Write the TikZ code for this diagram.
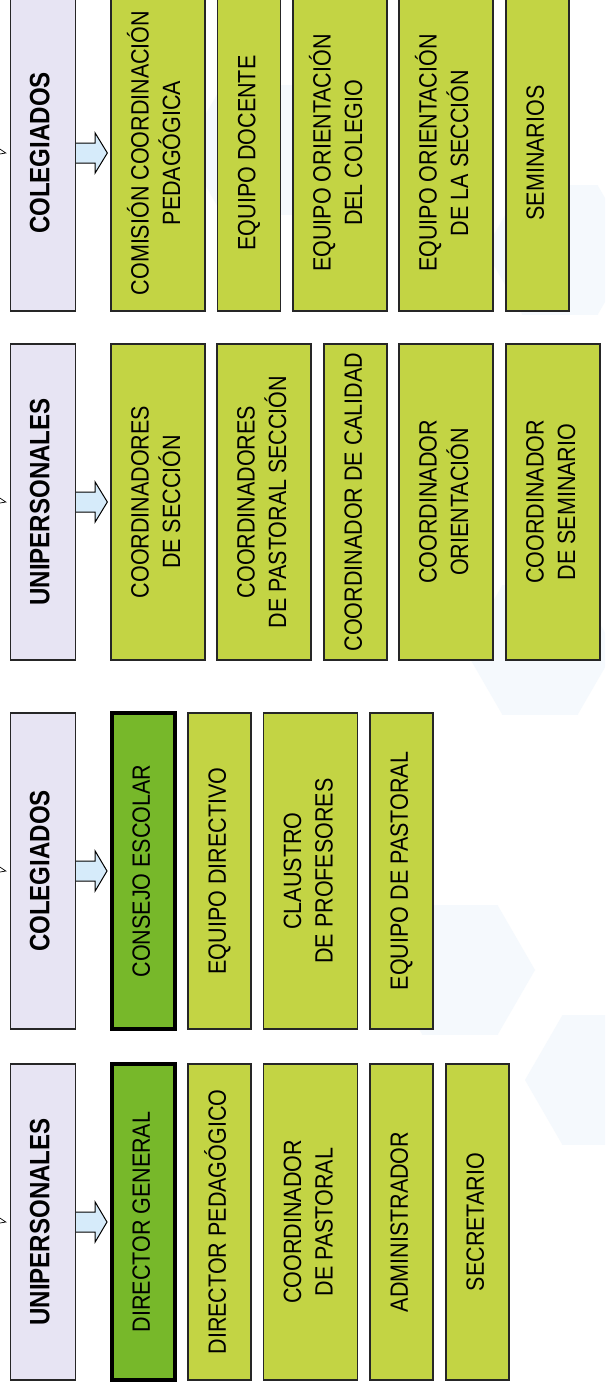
\documentclass[tikz,border=0pt]{standalone}
\usepackage{fontspec}
\setmainfont{Liberation Sans}
\usepackage{tikz}
\usetikzlibrary{calc,positioning,shapes.geometric}
\definecolor{fondoCab}{RGB}{231,228,243}
\definecolor{verdeClaro}{RGB}{195,212,68}
\definecolor{verdeOscuro}{RGB}{119,184,42}
\definecolor{azulFlecha}{RGB}{214,235,250}
\definecolor{hexa}{RGB}{245,249,253}
\colorlet{penColor}{black!85}

\tikzset{
  cabecera/.style={draw=penColor,fill=fondoCab,line width=1.3pt,minimum width=65pt,
    minimum height=316pt,inner sep=0pt,font=\bfseries\fontsize{28}{32}\selectfont},
  cargo/.style={draw=penColor,fill=verdeClaro,line width=1.3pt,minimum height=316pt,
    inner sep=0pt,font=\fontsize{25}{31.5}\selectfont},
  estrecho/.style={cargo,minimum width=63pt},
  ancho/.style={cargo,minimum width=94pt},
  principal/.style={cargo,fill=verdeOscuro,draw=black,line width=4pt,minimum width=63pt},
  flecha/.style={draw=black,fill=azulFlecha,line width=1pt,line join=miter},
  punta/.style={draw=black,line width=.7pt},
  hexagono/.style={regular polygon,regular polygon sides=6,minimum size=150pt,
    fill=hexa,draw=none}
}
\newcommand{\vtxt}[1]{\rotatebox{90}{\scalebox{.86}[1]{\begin{tabular}{@{}c@{}}#1\end{tabular}}}}
\newcommand{\bloque}[2]{%
  \draw[flecha] ($(#1.east)+(0,-10)$) -- ($(#1.east)+(19,-10)$) -- ($(#1.east)+(19,-20)$)
    -- ($(#2.west)+(-3,0)$) -- ($(#1.east)+(19,20)$) -- ($(#1.east)+(19,10)$)
    -- ($(#1.east)+(0,10)$);}
\newcommand{\puntaCortada}[1]{%
  \draw[punta] ($(#1.west)+(-10,-4)$) -- ($(#1.west)+(-4,0)$) -- ($(#1.west)+(-10,1)$);}

\begin{document}
\begin{tikzpicture}[x=1pt,y=-1pt]
  \path[use as bounding box,clip] (0,0) rectangle (605,1386);
  \fill[white] (0,0) rectangle (605,1386);

  % fondo
  \node[hexagono] (h1) at (260,150) {};
  \node[hexagono] (h2) at (560,250) {};
  \node[hexagono] (h3) at (540,650) {};
  \node[hexagono] (h4) at (460,970) {};
  \node[hexagono] (h5) at (600,1080) {};

  % colegiados (seccion)
  \node[cabecera] (col2) at (43,153) {\vtxt{COLEGIADOS}};
  \node[ancho] (comision) at (158,153) {\vtxt{COMISIÓN COORDINACIÓN\\PEDAGÓGICA}};
  \node[estrecho] (docente) at (249,153) {\vtxt{EQUIPO DOCENTE}};
  \node[ancho] (oriColegio) at (340,153) {\vtxt{EQUIPO ORIENTACIÓN\\DEL COLEGIO}};
  \node[ancho] (oriSeccion) at (446,153) {\vtxt{EQUIPO ORIENTACIÓN\\DE LA SECCIÓN}};
  \node[estrecho] (seminarios) at (537.5,153) {\vtxt{SEMINARIOS}};

  % unipersonales (seccion)
  \node[cabecera] (uni2) at (43,502) {\vtxt{UNIPERSONALES}};
  \node[ancho] (coSeccion) at (158,502) {\vtxt{COORDINADORES\\DE SECCIÓN}};
  \node[ancho] (coPastSec) at (264,502) {\vtxt{COORDINADORES\\DE PASTORAL SECCIÓN}};
  \node[estrecho] (coCalidad) at (355.5,502) {\vtxt{COORDINADOR DE CALIDAD}};
  \node[ancho] (coOrient) at (446,502) {\vtxt{COORDINADOR\\ORIENTACIÓN}};
  \node[ancho] (coSemin) at (553,502) {\vtxt{COORDINADOR\\DE SEMINARIO}};

  % colegiados (colegio)
  \node[cabecera] (col1) at (43,871) {\vtxt{COLEGIADOS}};
  \node[principal] (consejo) at (143.5,871) {\vtxt{CONSEJO ESCOLAR}};
  \node[estrecho] (directivo) at (219.5,871) {\vtxt{EQUIPO DIRECTIVO}};
  \node[ancho] (claustro) at (310.5,871) {\vtxt{CLAUSTRO\\DE PROFESORES}};
  \node[estrecho] (eqPastoral) at (401.5,871) {\vtxt{EQUIPO DE PASTORAL}};

  % unipersonales (colegio)
  \node[cabecera] (uni1) at (43,1222) {\vtxt{UNIPERSONALES}};
  \node[principal] (dirGeneral) at (143.5,1222) {\vtxt{DIRECTOR GENERAL}};
  \node[estrecho] (dirPedag) at (219.5,1222) {\vtxt{DIRECTOR PEDAGÓGICO}};
  \node[ancho] (coPastoral) at (310.5,1222) {\vtxt{COORDINADOR\\DE PASTORAL}};
  \node[estrecho] (admin) at (401.5,1222) {\vtxt{ADMINISTRADOR}};
  \node[estrecho] (secretario) at (477.5,1222) {\vtxt{SECRETARIO}};

  \bloque{col2}{comision}
  \bloque{uni2}{coSeccion}
  \bloque{col1}{consejo}
  \bloque{uni1}{dirGeneral}

  \puntaCortada{col2}
  \puntaCortada{uni2}
  \puntaCortada{col1}
  \puntaCortada{uni1}
\end{tikzpicture}
\end{document}
